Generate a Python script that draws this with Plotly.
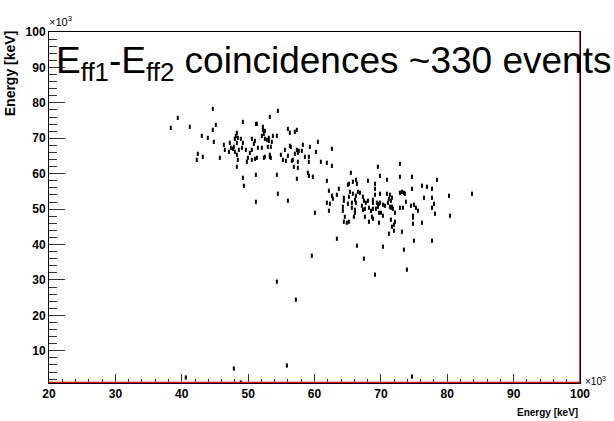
import plotly.graph_objects as go

# Event energies (x10^3 keV): detector 1 (x) vs detector 2 (y)
e_ff1 = [
    38.35, 39.40, 41.21, 44.68, 45.13, 44.68, 44.83, 43.02, 43.93, 42.42, 42.27, 43.17,
    45.74, 46.34, 46.49, 47.10, 47.24, 47.40, 47.85, 48.00, 48.30, 48.45, 48.30, 48.00,
    48.30, 48.60, 48.45, 48.30, 49.21, 49.21, 49.06, 49.66, 49.81, 49.96, 50.26, 50.56,
    50.56, 50.87, 51.02, 51.17, 51.32, 49.21, 49.36, 50.56, 51.32, 51.17, 51.17, 48.90,
    48.15, 47.70, 51.02,
    52.22, 52.22, 52.52, 52.07, 52.52, 52.82, 53.12, 52.97, 53.42, 53.57, 53.73, 52.37,
    52.52, 53.27, 53.27, 53.42, 53.27, 54.48, 54.33, 52.07, 51.47, 52.37, 53.12, 54.33,
    54.48, 55.99, 55.99, 56.29, 57.04, 57.34, 56.29, 56.44, 54.93, 55.69, 55.24, 55.54,
    55.99, 56.74, 57.49, 56.89, 57.34, 57.64, 58.09, 58.25, 59.30, 59.15, 59.15, 60.21,
    60.51, 60.96, 61.86, 62.62, 62.62, 59.00, 59.15, 59.75, 57.34, 56.59, 57.04, 57.49,
    57.49, 58.55, 60.06, 61.86, 62.17, 62.62, 62.77, 63.37, 63.67, 61.86, 62.32, 62.17,
    54.33, 57.19, 59.60,
    65.18, 65.18, 64.27, 64.57, 65.48, 65.78, 66.24, 66.39, 65.03, 68.05, 69.11, 69.11,
    69.11, 65.33, 65.78, 66.24, 66.84, 67.29, 66.54, 64.42, 64.42, 65.63, 66.09, 66.24,
    67.44, 67.74, 68.05, 68.80, 68.80, 65.03, 65.63, 66.09, 67.14, 67.59, 68.20, 68.80,
    69.55, 69.86, 70.31, 70.61, 71.06, 71.51, 71.21, 71.67, 71.36, 70.91, 69.86, 69.40,
    69.71, 69.25, 71.36, 71.67, 69.55, 72.87, 69.86, 70.91, 72.87, 74.68, 78.45, 76.19,
    76.94, 77.70, 74.68, 72.87, 73.17, 73.47, 73.62, 80.26, 83.73, 76.49, 77.70, 73.77,
    74.53, 74.98, 75.28, 75.58, 78.00, 77.70, 72.12, 70.01, 80.41, 78.15, 74.83, 64.27,
    66.09, 67.29, 68.50, 69.71, 70.31, 71.51, 71.82, 72.87, 73.32, 64.42, 64.87, 65.18,
    65.93, 67.59, 68.65, 68.80, 68.20, 69.71, 71.51, 72.12, 74.83, 74.83, 76.19, 71.97,
    71.67, 71.21, 71.97, 73.17, 74.98, 77.70, 63.37, 66.39, 70.31, 73.47, 67.44, 73.92,
    69.11,
    47.85, 55.84, 40.61, 48.90, 74.68,
]
e_ff2 = [
    72.93, 75.75, 73.22, 78.29, 73.78, 72.37, 68.99, 70.68, 70.12, 65.60, 63.91, 64.76,
    64.48, 68.14, 66.73, 66.17, 68.71, 67.30, 67.58, 69.84, 71.53, 70.12, 68.71, 66.17,
    65.33, 66.73, 63.91, 61.94, 74.62, 68.71, 67.30, 66.73, 63.35, 64.48, 65.89, 66.73,
    69.84, 68.43, 69.27, 74.06, 74.06, 58.84, 56.59, 63.91, 64.48, 59.68, 52.07, 69.84,
    70.68, 67.02, 64.20,
    73.22, 72.37, 72.09, 70.68, 69.84, 69.55, 69.27, 67.58, 67.58, 68.99, 70.68, 64.48,
    64.76, 64.76, 65.33, 64.48, 76.04, 77.73, 70.68, 67.30, 67.30, 71.25, 70.12, 59.68,
    54.33, 52.36, 72.65, 71.53, 71.81, 72.37, 67.86, 67.58, 65.33, 63.63, 63.91, 66.73,
    65.05, 63.91, 65.89, 61.94, 66.73, 66.45, 66.45, 68.14, 67.58, 64.76, 63.35, 66.17,
    68.99, 63.35, 63.07, 67.02, 62.22, 60.25, 59.40, 59.12, 58.56, 63.63, 65.61, 63.35,
    61.66, 64.76, 48.97, 57.99, 55.17, 53.76, 52.92, 54.04, 55.73, 51.79, 51.51, 49.53,
    29.52, 24.44, 36.84,
    57.14, 53.48, 50.66, 47.84, 60.25, 57.71, 58.27, 57.14, 56.87, 57.99, 57.14, 55.73,
    54.04, 54.89, 54.33, 53.76, 54.61, 53.48, 54.89, 53.20, 52.36, 51.79, 52.64, 51.79,
    52.36, 51.79, 52.36, 52.64, 51.79, 51.51, 50.38, 49.81, 50.94, 50.09, 50.38, 50.09,
    50.66, 51.79, 51.23, 50.94, 51.79, 52.36, 52.92, 53.20, 54.04, 54.33, 54.33, 51.79,
    51.51, 50.09, 50.66, 50.66, 61.94, 62.79, 59.40, 58.27, 59.12, 59.12, 58.27, 56.59,
    56.30, 55.73, 55.73, 54.61, 54.89, 54.61, 54.33, 53.76, 54.33, 53.20, 53.20, 52.07,
    50.94, 51.23, 50.38, 49.53, 51.51, 50.38, 48.97, 48.97, 48.12, 48.69, 48.12, 49.53,
    48.97, 49.81, 49.53, 48.97, 48.12, 50.38, 50.09, 50.38, 50.38, 46.43, 46.15, 46.43,
    47.84, 47.84, 47.84, 47.28, 46.43, 46.15, 46.99, 46.43, 47.56, 45.87, 46.15, 45.59,
    45.02, 43.05, 43.90, 43.61, 41.08, 41.08, 41.64, 39.67, 39.39, 38.54, 36.00, 32.90,
    31.49,
    4.99, 5.84, 2.45, 1.04, 2.73,
]

x_ticks = [20, 30, 40, 50, 60, 70, 80, 90, 100]
y_ticks = [10, 20, 30, 40, 50, 60, 70, 80, 90, 100]
x_range = [20, 100]
y_range = [0.9, 100]

title_text = "E<sub>ff1</sub>-E<sub>ff2</sub> coincidences ~330 events"
axis_title = "Energy [keV]"

tick_font = dict(family="Liberation Sans Narrow, Arial Narrow, Liberation Sans, sans-serif",
                 size=12, color="black", weight="bold")

fig = go.Figure()
fig.add_trace(go.Scatter(
    x=e_ff1, y=e_ff2, mode="markers",
    marker=dict(symbol="line-ns", size=3, color="black",
                line=dict(color="black", width=2)),
    hoverinfo="x+y", showlegend=False,
))

fig.update_xaxes(
    range=x_range, tickvals=x_ticks, ticktext=[str(v) for v in x_ticks],
    showgrid=False, zeroline=False, showline=True, linecolor="black", linewidth=1,
    mirror=True, ticks="inside", ticklen=9, tickwidth=1, tickcolor="#333",
    minor=dict(dtick=2, tick0=0, ticks="inside", ticklen=4, tickcolor="#333", showgrid=False),
    tickfont=tick_font,
)
fig.update_yaxes(
    range=y_range, tickvals=y_ticks, ticktext=[str(v) for v in y_ticks],
    showgrid=False, zeroline=False, showline=True, linecolor="black", linewidth=1,
    mirror=True, ticks="inside", ticklen=16, tickwidth=1, tickcolor="#333",
    minor=dict(dtick=2, tick0=0, ticks="inside", ticklen=8, tickcolor="#333", showgrid=False),
    tickfont=tick_font,
)

# red outline (zero histogram) along bottom and right edge
fig.add_shape(type="line", xref="x", yref="y", x0=x_range[0], x1=x_range[1],
              y0=y_range[0], y1=y_range[0], line=dict(color="#e00000", width=2.5), layer="above")
fig.add_shape(type="line", xref="x", yref="y", x0=x_range[1], x1=x_range[1],
              y0=y_range[0], y1=y_range[1], line=dict(color="#e00000", width=1.5), layer="above")

fig.add_annotation(text=title_text, xref="paper", yref="paper", x=0.010, y=0.912,
                   xanchor="left", yanchor="middle", showarrow=False,
                   font=dict(family="Liberation Sans, Arial, sans-serif", size=37, color="black"))
fig.add_annotation(text="×10<sup>3</sup>", xref="paper", yref="paper", x=-0.003, y=1.03,
                   xanchor="left", yanchor="middle", showarrow=False,
                   font=dict(family="Liberation Sans Narrow, Liberation Sans, sans-serif", size=11, color="black"))
fig.add_annotation(text="×10<sup>3</sup>", xref="paper", yref="paper", x=1.006, y=0.006,
                   xanchor="left", yanchor="middle", showarrow=False,
                   font=dict(family="Liberation Sans Narrow, Liberation Sans, sans-serif", size=10, color="black"))
fig.add_annotation(text=axis_title, xref="paper", yref="paper", x=1.0, y=-0.083,
                   xanchor="right", yanchor="middle", showarrow=False,
                   font=dict(family="Liberation Sans Narrow, Arial Narrow, Liberation Sans, sans-serif",
                             size=10, color="black", weight="bold"))
fig.add_annotation(text=axis_title, xref="paper", yref="paper", x=-0.072, y=1.01,
                   xanchor="center", yanchor="top", textangle=-90, showarrow=False,
                   font=dict(family="Liberation Sans, Arial, sans-serif", size=14, color="black", weight="bold"))

fig.update_layout(
    width=614, height=421,
    margin=dict(l=49, r=34, t=32, b=38),
    paper_bgcolor="white", plot_bgcolor="white",
)

fig.write_html("out.html", config={"displayModeBar": False},
               post_script="document.body.style.margin='0';document.body.style.padding='0';")
